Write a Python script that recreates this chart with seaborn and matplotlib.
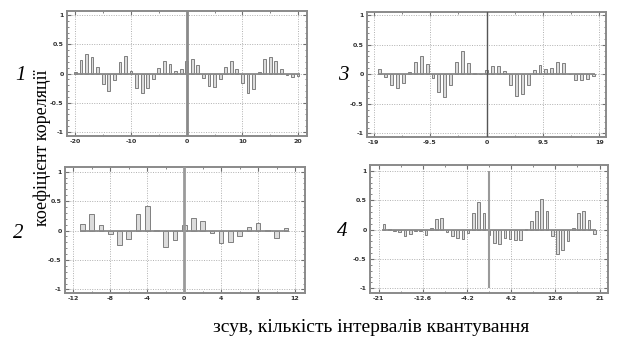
import numpy as np
import matplotlib
matplotlib.use("Agg")
import matplotlib.pyplot as plt
import seaborn as sns
from matplotlib.ticker import AutoMinorLocator

# Correlation coefficients
lags_1 = np.arange(-20, 21)
corr_1 = [0.03, 0.23, 0.33, 0.29, 0.11, -0.18, -0.30, -0.11, 0.20, 0.30,
          0.04, -0.25, -0.34, -0.25, -0.09, 0.10, 0.21, 0.16, 0.04, 0.08,
          0.21, 0.24, 0.14, -0.08, -0.21, -0.23, -0.09, 0.11, 0.21, 0.07,
          -0.17, -0.34, -0.26, 0.02, 0.24, 0.29, 0.21, 0.08, -0.03, -0.06,
          -0.05]
ticks_1 = [-20, -10, 0, 10, 20]

lags_2 = np.arange(-11, 12)
corr_2 = [0.11, 0.29, 0.10, -0.05, -0.25, -0.14, 0.28, 0.41, 0.01, -0.28,
          -0.16, 0.10, 0.22, 0.16, -0.04, -0.21, -0.19, -0.10, 0.06, 0.13,
          0.01, -0.13, 0.05]
ticks_2 = [-12, -8, -4, 0, 4, 8, 12]

lags_3 = np.arange(-18, 19)
corr_3 = [0.08, -0.04, -0.19, -0.23, -0.15, 0.04, 0.21, 0.30, 0.17, -0.06,
          -0.30, -0.38, -0.18, 0.21, 0.39, 0.19, 0.02, 0.0, 0.07, 0.14,
          0.14, 0.05, -0.19, -0.37, -0.33, -0.19, 0.07, 0.16, 0.09, 0.10,
          0.21, 0.19, 0.0, -0.10, -0.10, -0.08, -0.03]
ticks_3 = [-19, -9.5, 0, 9.5, 19]

lags_4 = np.arange(-20, 21)
corr_4 = [0.10, 0.005, -0.02, -0.04, -0.11, -0.08, -0.02, -0.02, -0.10, 0.02,
          0.18, 0.20, -0.04, -0.11, -0.14, -0.16, -0.06, 0.28, 0.47, 0.29,
          -0.10, -0.23, -0.24, -0.15, -0.16, -0.18, -0.17, 0.005, 0.15, 0.31,
          0.52, 0.31, -0.11, -0.41, -0.35, -0.19, 0.03, 0.29, 0.32, 0.16,
          -0.07]
ticks_4 = [-21, -12.6, -4.2, 4.2, 12.6, 21]

fig = plt.figure(figsize=(6.31, 3.53), dpi=100)
W, H = 631, 353


def rect(l, r, t, b):
    return [l / W, 1 - b / H, (r - l) / W, (b - t) / H]


panels = [
    # label, lags, values, ticks, rect, xlim, ylim, zero line style
    ("1", lags_1, corr_1, ticks_1, rect(67, 307, 11, 136), (-21.5, 21.6), (-1.07, 1.07), ("#8a8a8a", 2.0, "full")),
    ("3", lags_3, corr_3, ticks_3, rect(367, 606, 12, 137), (-20.1, 20.1), (-1.06, 1.05), ("#555555", 1.0, "full")),
    ("2", lags_2, corr_2, ticks_2, rect(65, 305, 167, 293), (-12.9, 13.07), (-1.06, 1.08), ("#9a9a9a", 2.0, "full")),
    ("4", lags_4, corr_4, ticks_4, rect(370, 608, 165, 293), (-22.65, 22.6), (-1.08, 1.10), ("#9a9a9a", 1.5, "short")),
]
label_pos = {"1": (20, 75), "3": (343, 75), "2": (18, 233), "4": (342, 231)}

for name, lags, vals, ticks, r, xl, yl, zl in panels:
    ax = fig.add_axes(r)
    ax.grid(True, linestyle=(0, (1, 1.5)), color="#b0b0b0", linewidth=0.7, zorder=0)
    ax.set_axisbelow(True)
    sns.barplot(x=lags, y=vals, native_scale=True, width=0.5, color="#dcdcdc",
                edgecolor="#6e6e6e", linewidth=0.6, errorbar=None, ax=ax, zorder=3)
    ax.hlines(0, lags[0] - 0.3, lags[-1] + 0.3, color="#8a8a8a", linewidth=1.3, zorder=4)
    color, lw, kind = zl
    if kind == "full":
        ax.axvline(0, color=color, linewidth=lw, zorder=5)
    else:
        ax.vlines(0, -1, 1, color=color, linewidth=lw, zorder=5)
    ax.set_xlim(*xl)
    ax.set_ylim(*yl)
    ax.set_xticks(ticks)
    ax.set_xticklabels([f"{t:g}" for t in ticks])
    ax.set_yticks([-1, -0.5, 0, 0.5, 1])
    ax.set_yticklabels(["-1", "-0.5", "0", "0.5", "1"])
    ax.yaxis.set_minor_locator(AutoMinorLocator(5))
    ax.xaxis.set_minor_locator(AutoMinorLocator(2))
    ax.tick_params(which="both", direction="in", top=True, right=True,
                   color="#707070", labelsize=4.5, pad=2.5)
    ax.tick_params(which="major", length=3, width=0.8)
    ax.tick_params(which="minor", length=1.5, width=0.6)
    for lab in ax.get_xticklabels() + ax.get_yticklabels():
        lab.set_fontweight("bold")
        lab.set_color("#333333")
    for s in ax.spines.values():
        s.set_color("#8a8a8a")
        s.set_linewidth(1.4)
    ax.set_xlabel("")
    ax.set_ylabel("")
    px, py = label_pos[name]
    fig.text(px / W, 1 - py / H, name, fontsize=15, style="italic",
             family="Liberation Serif", ha="center", va="center")

fig.text(42 / W, 1 - 148 / H, "коефіцієнт кореляції", rotation=90,
         fontsize=13, family="Liberation Serif", ha="center", va="center")
fig.text(371 / W, 1 - 328 / H, "зсув, кількість інтервалів квантування",
         fontsize=14, family="Liberation Serif", ha="center", va="center")

fig.savefig("out.png", dpi=100)
